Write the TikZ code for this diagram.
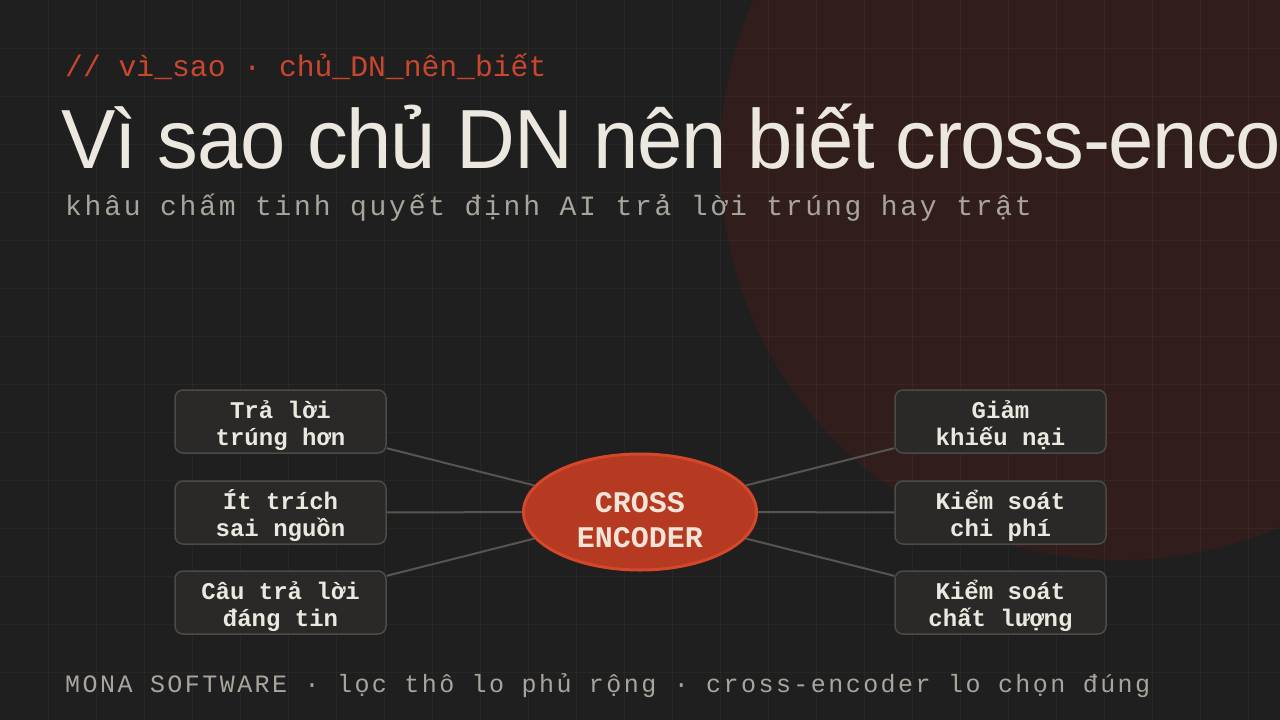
\documentclass[tikz,border=0pt]{standalone}
\usepackage{fontspec}
\setmainfont{Liberation Sans}
\newfontfamily\titlefont[FakeStretch=0.97,LetterSpace=-1.8]{Liberation Sans}
\newfontfamily\monofont{Liberation Mono}
\newfontfamily\monobold{Liberation Mono Bold}
\newfontfamily\subfont[LetterSpace=9.8]{Liberation Mono}
\newfontfamily\footfont[LetterSpace=9.8]{Liberation Mono}
\usetikzlibrary{shapes.geometric}
\definecolor{bgc}{HTML}{1F1F1F}
\definecolor{circc}{HTML}{311E1C}
\definecolor{hdrc}{HTML}{C9472F}
\definecolor{titlec}{HTML}{ECE8DF}
\definecolor{subc}{HTML}{A9A59D}
\definecolor{cardfill}{HTML}{2A2928}
\definecolor{cardline}{HTML}{4B4A46}
\definecolor{connc}{HTML}{57554F}
\definecolor{ered}{HTML}{B53A21}
\definecolor{eborder}{HTML}{D5472B}
\definecolor{etext}{HTML}{F2E4D8}
\tikzset{
  card/.style={draw=cardline, fill=cardfill, line width=1.5pt, rounded corners=8pt,
    minimum width=211pt, minimum height=63pt, inner sep=0pt, align=center,
    text height=47pt, text depth=0pt,
    text=titlec, font=\monobold\fontsize{24}{27}\selectfont},
  conn/.style={draw=connc, line width=2pt},
  core/.style={ellipse, minimum width=233pt, minimum height=116pt, fill=ered,
    draw=eborder, line width=3pt, inner sep=0pt, align=center, text=etext,
    text height=70pt, text depth=0pt,
    font=\monobold\fontsize{30}{35}\selectfont},
  txt/.style={anchor=base west, inner sep=0pt},
  gridline/.style={draw=white, draw opacity=0.035, line width=1pt}
}
\begin{document}
\begin{tikzpicture}[x=1pt,y=-1pt]
\useasboundingbox (0,0) rectangle (1280,720);
\begin{scope}
\clip (0,0) rectangle (1280,720);
\fill[bgc] (0,0) rectangle (1280,720);
\fill[circc] (1120,160) circle[radius=400pt];
\foreach \i in {48,96,...,1248} \draw[gridline] (\i,0) -- (\i,720);
\foreach \j in {48,96,...,672} \draw[gridline] (0,\j) -- (1280,\j);
\node[txt, text=hdrc, font=\monofont\fontsize{29.7}{36}\selectfont] (hdr) at (65,76) {// vì\_sao · chủ\_DN\_nên\_biết};
\node[txt, text=titlec, font=\titlefont\fontsize{84}{100}\selectfont] (title) at (61,168) {Vì sao chủ DN nên biết cross-encoder};
\node[txt, text=subc, font=\subfont\fontsize{28}{34}\selectfont] (sub) at (65,215) {khâu chấm tinh quyết định AI trả lời trúng hay trật};
\node[txt, text=subc, font=\footfont\fontsize{25}{30}\selectfont] (foot) at (65,692) {MONA SOFTWARE · lọc thô lo phủ rộng · cross-encoder lo chọn đúng};

\node[core] (ce) at (640,512) {CROSS\\ENCODER};
\node[card] (l1) at (280.5,421.5) {Trả lời\\trúng hơn};
\node[card] (l2) at (280.5,512.5) {Ít trích\\sai nguồn};
\node[card] (l3) at (280.5,602.5) {Câu trả lời\\đáng tin};
\node[card] (r1) at (1000.5,421.5) {Giảm\\khiếu nại};
\node[card] (r2) at (1000.5,512.5) {Kiểm soát\\chi phí};
\node[card] (r3) at (1000.5,602.5) {Kiểm soát\\chất lượng};
\foreach \n in {l1,l2,l3,r1,r2,r3} \draw[conn] (\n) -- (ce);
\end{scope}
\end{tikzpicture}
\end{document}
